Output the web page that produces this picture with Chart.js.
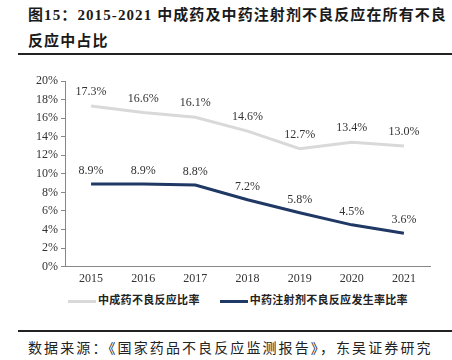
<!DOCTYPE html>
<html>
<head>
<meta charset="utf-8">
<script src="https://cdn.jsdelivr.net/npm/chart.js@4"></script>
<style>
  body { margin: 0; width: 452px; height: 360px; background: #fff; position: relative; overflow: hidden; }
  .title { position: absolute; left: 28px; top: 2px; font: bold 15px "Liberation Serif", "Noto Sans CJK SC"; color: #1a1a1a; line-height: 26px; letter-spacing: 1.1px; }
  .rule { position: absolute; left: 18px; right: 0; height: 2px; background: #222; }
  .source { position: absolute; left: 28px; top: 337px; font: 14px "Noto Sans CJK SC"; color: #222; letter-spacing: 2.1px; }
  .chart_box { position: absolute; left: 0; top: 60px; width: 452px; height: 231px; }
  .legend { position: absolute; top: 291px; left: 68px; font: bold 11px "Noto Sans CJK SC"; color: #222; letter-spacing: 0.3px; white-space: nowrap; line-height: 16px; }
  .legend span.sw { display: inline-block; width: 28px; height: 3px; vertical-align: middle; margin-right: 2px; }
  .legend span.item { margin-right: 20px; }
</style>
</head>
<body>
<div class="title">图15：2015-2021 中成药及中药注射剂不良反应在所有不良<br>反应中占比</div>
<div class="rule" style="top:53px"></div>
<div class="chart_box"><canvas id="chart"></canvas></div>
<div class="legend" id="legend"></div>
<div class="rule" style="top:330px"></div>
<div class="source">数据来源：《国家药品不良反应监测报告》，东吴证券研究</div>
<script>
var years = ['2015', '2016', '2017', '2018', '2019', '2020', '2021'];
var tcmRate = [17.3, 16.6, 16.1, 14.6, 12.7, 13.4, 13.0];        // 中成药不良反应比率
var injectionRate = [8.9, 8.9, 8.8, 7.2, 5.8, 4.5, 3.6];         // 中药注射剂不良反应发生率比率
var yTicks = [0, 2, 4, 6, 8, 10, 12, 14, 16, 18, 20];

// draw value labels above each point
var valueLabels = {
    id: 'valueLabels',
    afterDatasetsDraw: function(chart) {
        var ctx = chart.ctx;
        ctx.save();
        ctx.font = '12px "Liberation Serif"';
        ctx.fillStyle = '#333';
        ctx.textAlign = 'center';
        ctx.textBaseline = 'bottom';
        chart.data.datasets.forEach(function(ds, i) {
            var meta = chart.getDatasetMeta(i);
            meta.data.forEach(function(pt, j) {
                ctx.fillText(ds.data[j].toFixed(1) + '%', pt.x, pt.y - (i === 0 ? 8 : 7));
            });
        });
        ctx.restore();
    }
};

var ctx = document.getElementById('chart').getContext('2d');
var chart = new Chart(ctx, {
    type: 'line',
    data: {
        labels: years,
        datasets: [{
            label: '中成药不良反应比率',
            data: tcmRate,
            borderColor: '#d9d9d9',
            backgroundColor: '#d9d9d9',
            borderWidth: 3,
            pointRadius: 0,
            fill: false
        }, {
            label: '中药注射剂不良反应发生率比率',
            data: injectionRate,
            borderColor: '#1f3864',
            backgroundColor: '#1f3864',
            borderWidth: 3,
            pointRadius: 0,
            fill: false
        }]
    },
    options: {
        responsive: true,
        maintainAspectRatio: false,
        animation: false,
        layout: { padding: { left: 0, right: 22, top: 21, bottom: 0 } },
        plugins: {
            tooltip: { enabled: false },
            legend: { display: false }
        },
        scales: {
            x: {
                offset: true,
                grid: { display: false, drawTicks: false },
                border: { color: '#888', width: 1 },
                ticks: { color: '#333', padding: 5, font: { family: '"Liberation Serif"', size: 12 } }
            },
            y: {
                min: 0,
                max: 20,
                afterFit: function(scale) { scale.width = 65; },
                afterBuildTicks: function(scale) {
                    scale.ticks = yTicks.map(function(v) { return { value: v }; });
                },
                grid: { display: true, drawOnChartArea: false, drawTicks: true, tickLength: 4, color: '#888' },
                border: { color: '#888', width: 1 },
                ticks: {
                    color: '#333',
                    padding: 3,
                    font: { family: '"Liberation Serif"', size: 12 },
                    callback: function(v) { return v + '%'; }
                }
            }
        }
    },
    plugins: [valueLabels]
});

// legend built from the dataset labels and colours
document.getElementById('legend').innerHTML = chart.data.datasets.map(function(ds) {
    return '<span class="item"><span class="sw" style="background:' + ds.borderColor + '"></span>' + ds.label + '</span>';
}).join('');
</script>
</body>
</html>
